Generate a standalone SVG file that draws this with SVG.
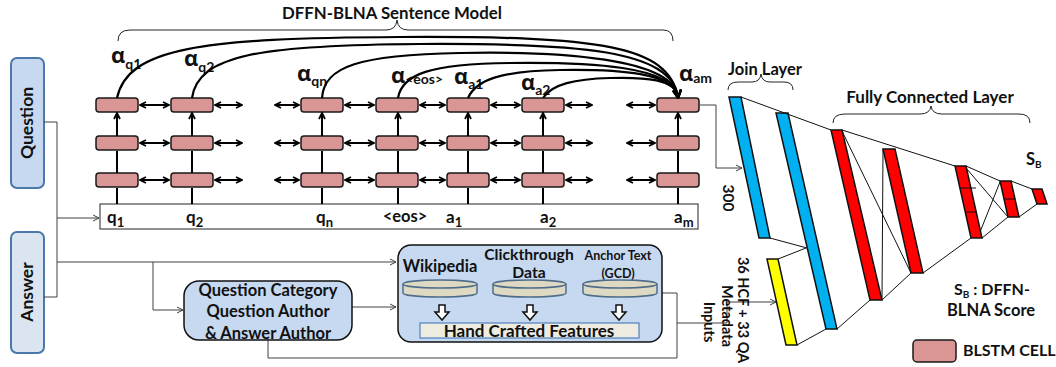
<svg xmlns="http://www.w3.org/2000/svg" width="1056" height="367" viewBox="0 0 1056 367">
<defs>
<marker id="ah" viewBox="0 0 8 8" refX="7" refY="4" markerWidth="8" markerHeight="8" markerUnits="userSpaceOnUse" orient="auto-start-reverse">
<path d="M1,1 L7,4 L1,7" fill="none" stroke="#000" stroke-width="1.8"/>
</marker>
<marker id="thin" viewBox="0 0 8 8" refX="7" refY="4" markerWidth="8" markerHeight="8" markerUnits="userSpaceOnUse" orient="auto">
<path d="M1,1 L7,4 L1,7" fill="none" stroke="#404040" stroke-width="1"/>
</marker>
<marker id="att" viewBox="0 0 10 10" refX="8" refY="5" markerWidth="10" markerHeight="10" markerUnits="userSpaceOnUse" orient="auto">
<path d="M1,1 L9,5 L1,9" fill="none" stroke="#000" stroke-width="2"/>
</marker>
</defs>
<style>
text{font-family:Lato,"Open Sans","Liberation Sans",sans-serif;font-weight:700;fill:#111}
.cell{fill:#d99694;stroke:#1a1a1a;stroke-width:1.5}
.ar{stroke:#000;stroke-width:2;fill:none;marker-end:url(#ah)}
.dar{stroke:#000;stroke-width:2;fill:none;marker-end:url(#ah);marker-start:url(#ah)}
.att{stroke:#000;stroke-width:2.2;fill:none;marker-end:url(#att)}
.wire{stroke:#404040;stroke-width:1;fill:none}
.warr{stroke:#404040;stroke-width:1;fill:none;marker-end:url(#thin)}
.brace{stroke:#222;stroke-width:1;fill:none}
.nn{stroke:#111;stroke-width:1;fill:none}
.blue{fill:#00b0f0;stroke:#111;stroke-width:1.5}
.red{fill:#ff0000;stroke:#111;stroke-width:1.5}
.yel{fill:#ffff00;stroke:#111;stroke-width:1.5}
.alpha{font-family:"Open Sans","DejaVu Sans",sans-serif;font-size:22px}
.asub{font-family:Lato,"Open Sans",sans-serif;font-size:14px}
.sub{font-size:13px}
.disk{fill:#ddd9c3;stroke:#4f6d8a;stroke-width:1.5}
</style>

<!-- Input nodes -->
<g id="question">
<rect x="11" y="58" width="33" height="130" rx="6" fill="#c6d9f1" stroke="#4a78aa" stroke-width="2"/>
<text transform="translate(27,123) rotate(-90)" text-anchor="middle" y="6" font-size="17.5">Question</text>
</g>
<g id="answer">
<rect x="11" y="232" width="33" height="121" rx="6" fill="#dbe5f1" stroke="#4a78aa" stroke-width="2"/>
<text transform="translate(27,292) rotate(-90)" text-anchor="middle" y="6" font-size="17.5">Answer</text>
</g>

<!-- Sentence model title and brace -->
<g id="sentence-model-title">
<text x="392" y="19" text-anchor="middle" font-size="16.8">DFFN-BLNA Sentence Model</text>
<path class="brace" d="M118,41 Q118,30 130,30 L386,30 Q396,30 397,20 Q398,30 408,30 L663,30 Q673,30 673,41"/>
</g>

<!-- Input sequence box -->
<g id="input-sequence">
<rect x="100" y="204" width="598" height="25" fill="#fff" stroke="#222" stroke-width="1"/>
<text x="107" y="223" font-size="17">q<tspan class="sub" dy="4">1</tspan></text>
<text x="186" y="223" font-size="17">q<tspan class="sub" dy="4">2</tspan></text>
<text x="316" y="223" font-size="17">q<tspan class="sub" dy="4">n</tspan></text>
<text x="405" y="222" text-anchor="middle" font-size="16.5">&lt;eos&gt;</text>
<text x="446" y="223" font-size="17">a<tspan class="sub" dy="4">1</tspan></text>
<text x="540" y="223" font-size="17">a<tspan class="sub" dy="4">2</tspan></text>
<text x="674" y="223" font-size="17">a<tspan class="sub" dy="4">m</tspan></text>
</g>

<!-- BLSTM cells -->
<g id="cells-q1"><rect class="cell" x="96" y="98" width="42" height="14" rx="3"/><rect class="cell" x="96" y="136" width="42" height="14" rx="3"/><rect class="cell" x="96" y="173" width="42" height="14" rx="3"/></g>
<g id="cells-q2"><rect class="cell" x="171" y="98" width="42" height="14" rx="3"/><rect class="cell" x="171" y="136" width="42" height="14" rx="3"/><rect class="cell" x="171" y="173" width="42" height="14" rx="3"/></g>
<g id="cells-qn"><rect class="cell" x="301" y="98" width="42" height="14" rx="3"/><rect class="cell" x="301" y="136" width="42" height="14" rx="3"/><rect class="cell" x="301" y="173" width="42" height="14" rx="3"/></g>
<g id="cells-eos"><rect class="cell" x="376" y="98" width="42" height="14" rx="3"/><rect class="cell" x="376" y="136" width="42" height="14" rx="3"/><rect class="cell" x="376" y="173" width="42" height="14" rx="3"/></g>
<g id="cells-a1"><rect class="cell" x="447" y="98" width="42" height="14" rx="3"/><rect class="cell" x="447" y="136" width="42" height="14" rx="3"/><rect class="cell" x="447" y="173" width="42" height="14" rx="3"/></g>
<g id="cells-a2"><rect class="cell" x="522" y="98" width="42" height="14" rx="3"/><rect class="cell" x="522" y="136" width="42" height="14" rx="3"/><rect class="cell" x="522" y="173" width="42" height="14" rx="3"/></g>
<g id="cells-am"><rect class="cell" x="657" y="98" width="42" height="14" rx="3"/><rect class="cell" x="657" y="136" width="42" height="14" rx="3"/><rect class="cell" x="657" y="173" width="42" height="14" rx="3"/></g>

<!-- Attention labels -->
<g id="alpha-labels">
<text class="alpha" x="111" y="63">α<tspan class="asub" dy="6">q1</tspan></text>
<text class="alpha" x="184" y="66">α<tspan class="asub" dy="6">q2</tspan></text>
<text class="alpha" x="297" y="81">α<tspan class="asub" dy="5">qn</tspan></text>
<text class="alpha" x="391" y="83">α<tspan class="asub" font-size="11.5" dy="1">&lt;eos&gt;</tspan></text>
<text class="alpha" x="454" y="84">α<tspan class="asub" dy="5">a1</tspan></text>
<text class="alpha" x="521" y="90">α<tspan class="asub" dy="5">a2</tspan></text>
<text class="alpha" x="679" y="81">α<tspan class="asub" dy="2">am</tspan></text>
</g>

<!-- Connectors -->
<g id="connectors">
<line class="dar" x1="140" y1="105" x2="169" y2="105"/><line class="dar" x1="140" y1="143" x2="169" y2="143"/><line class="dar" x1="140" y1="180" x2="169" y2="180"/>
<line class="dar" x1="215" y1="105" x2="242" y2="105"/><line class="dar" x1="215" y1="143" x2="242" y2="143"/><line class="dar" x1="215" y1="180" x2="242" y2="180"/>
<line class="dar" x1="275" y1="105" x2="299" y2="105"/><line class="dar" x1="275" y1="143" x2="299" y2="143"/><line class="dar" x1="275" y1="180" x2="299" y2="180"/>
<line class="dar" x1="345" y1="105" x2="374" y2="105"/><line class="dar" x1="345" y1="143" x2="374" y2="143"/><line class="dar" x1="345" y1="180" x2="374" y2="180"/>
<line class="dar" x1="420" y1="105" x2="445" y2="105"/><line class="dar" x1="420" y1="143" x2="445" y2="143"/><line class="dar" x1="420" y1="180" x2="445" y2="180"/>
<line class="dar" x1="491" y1="105" x2="520" y2="105"/><line class="dar" x1="491" y1="143" x2="520" y2="143"/><line class="dar" x1="491" y1="180" x2="520" y2="180"/>
<line class="dar" x1="566" y1="105" x2="592" y2="105"/><line class="dar" x1="566" y1="143" x2="592" y2="143"/><line class="dar" x1="566" y1="180" x2="592" y2="180"/>
<line class="dar" x1="627" y1="105" x2="655" y2="105"/><line class="dar" x1="627" y1="143" x2="655" y2="143"/><line class="dar" x1="627" y1="180" x2="655" y2="180"/>
<path class="ar" d="M117,204 V188 M117,173 V151 M117,136 V113"/>
<path class="ar" d="M192,204 V188 M192,173 V151 M192,136 V113"/>
<path class="ar" d="M322,204 V188 M322,173 V151 M322,136 V113"/>
<path class="ar" d="M398,204 V188 M398,173 V151 M398,136 V113"/>
<path class="ar" d="M468,204 V188 M468,173 V151 M468,136 V113"/>
<path class="ar" d="M543,204 V188 M543,173 V151 M543,136 V113"/>
<path class="ar" d="M678,204 V188 M678,173 V151 M678,136 V113"/>
<path class="att" d="M117,98 C128,48 200,38 400,37 S668,45 678,97"/>
<path class="att" d="M192,98 C198,55 260,45 420,44 S671,50 678,97"/>
<path class="att" d="M322,98 C324,66 360,55 460,53 S673,58 678,97"/>
<path class="att" d="M398,98 C402,74 430,64 510,63 S674,66 678,97"/>
<path class="att" d="M468,98 C476,80 500,71 560,70 S675,73 678,97"/>
<path class="att" d="M543,98 C552,84 575,79 610,78 S676,79 678,97"/>
<path class="wire" d="M44,122 H57 V297 H44"/>
<path class="warr" d="M57,218 H99"/>
<path class="warr" d="M57,262 H396"/>
<path class="warr" d="M153,262 V310 H183"/>
<path class="warr" d="M352,307 H396"/>
<path class="wire" d="M268,340 V358 H677 V293 H662"/>
<path class="wire" d="M677,323 H727 V302"/>
<path class="warr" d="M727,302 H776"/>
<path class="warr" d="M700,105 H716 V168 H742"/>
</g>

<!-- Question category node -->
<g id="question-category">
<rect x="184" y="281" width="168" height="59" rx="15" fill="#c6d9f1" stroke="#111" stroke-width="1.5"/>
<text x="268" y="296" text-anchor="middle" font-size="16.5">Question Category</text>
<text x="268" y="317" text-anchor="middle" font-size="16.5">Question Author</text>
<text x="268" y="339" text-anchor="middle" font-size="16.5">&amp; Answer Author</text>
</g>

<!-- Knowledge sources node -->
<g id="feature-sources">
<rect x="398" y="245" width="264" height="97" rx="13" fill="#c6d9f1" stroke="#111" stroke-width="1.5"/>
<text x="440" y="272" text-anchor="middle" font-size="16.5">Wikipedia</text>
<text x="529" y="260" text-anchor="middle" font-size="15.7">Clickthrough</text>
<text x="529" y="278" text-anchor="middle" font-size="15.7">Data</text>
<text x="618" y="260" text-anchor="middle" font-size="12.5">Anchor Text</text>
<text x="618" y="278" text-anchor="middle" font-size="12.5">(GCD)</text>
<g>
<path class="disk" d="M403,284 V293 A37,4 0 0 0 477,293 V284"/><ellipse class="disk" cx="440" cy="284" rx="37" ry="4"/>
<path class="disk" d="M493,284 V293 A36.5,4 0 0 0 566,293 V284"/><ellipse class="disk" cx="529.5" cy="284" rx="36.5" ry="4"/>
<path class="disk" d="M583,284 V293 A37,4 0 0 0 657,293 V284"/><ellipse class="disk" cx="620" cy="284" rx="37" ry="4"/>
</g>
<path d="M439,305 H445 V312 H449 L442,320 L435,312 H439 Z" fill="#fff" stroke="#111" stroke-width="1.5"/>
<path d="M527,305 H533 V312 H537 L530,320 L523,312 H527 Z" fill="#fff" stroke="#111" stroke-width="1.5"/>
<path d="M616,305 H622 V312 H626 L619,320 L612,312 H616 Z" fill="#fff" stroke="#111" stroke-width="1.5"/>
<rect x="420" y="323" width="219" height="15" fill="#eeece1" stroke="#4f81bd" stroke-width="1.2"/>
<text x="529" y="337" text-anchor="middle" font-size="17">Hand Crafted Features</text>
</g>

<!-- Join layer -->
<g id="join-layer">
<text x="765" y="75" text-anchor="middle" font-size="16.5">Join Layer</text>
<path class="brace" d="M728,90 Q728,82 738,82 L752,82 Q760,82 761,74 Q762,82 770,82 L784,82 Q793,82 793,90"/>
<polygon class="blue" points="729,97 741,97 770,238 759,238"/>
<polygon class="blue" points="776,113 788,113 837,329 826,329"/>
<polygon class="yel" points="767,259 778,259 797,345 786,345"/>
<text transform="translate(728,198) rotate(90)" text-anchor="middle" y="5" font-size="15.5">300</text>
<g transform="translate(730,310) rotate(90)" font-size="14.5">
<text x="0" y="-8" text-anchor="middle" font-size="14.5">36 HCF + 33  QA</text>
<text x="6" y="8" text-anchor="middle" font-size="14.5">Metadata</text>
<text x="12" y="26" text-anchor="middle" font-size="14.5">Inputs</text>
</g>
</g>

<!-- Fully connected layer -->
<g id="fully-connected-layer">
<text x="930" y="103" text-anchor="middle" font-size="17">Fully Connected Layer</text>
<path class="brace" d="M833,123 Q833,114 845,114 L920,114 Q930,114 931,106 Q932,114 942,114 L1019,114 Q1030,114 1030,123"/>
<polygon class="red" points="831,130 842,130 882,300 870,300"/>
<polygon class="red" points="883,149 895,149 923,273 911,273"/>
<polygon class="red" points="955,166 966,166 982,238 971,238"/>
<line class="nn" x1="960" y1="188" x2="976" y2="188"/><line class="nn" x1="966" y1="212" x2="977" y2="212"/>
<polygon class="red" points="1000,181 1011,181 1019,217 1008,217"/>
<line class="nn" x1="1004" y1="199" x2="1015" y2="199"/>
<polygon class="red" points="1032,189 1042,189 1047,204 1037,204"/>
</g>

<g id="network-links">
<path class="nn" d="M741,97 L831,130 M842,130 L955,166 M966,166 L1000,181 M1011,181 L1032,189"/>
<path class="nn" d="M770,238 L807,248 M778,259 L806,248"/>
<path class="nn" d="M797,345 L826,329 M837,329 L870,300 M882,300 L911,273 M923,273 L971,238 M982,238 L1008,217 M1019,217 L1037,204"/>
<path class="nn" d="M842,131 L911,273 M883,149 L882,300"/>
<path class="nn" d="M966,168 L1008,217 M980,232 L1000,182"/>
</g>

<!-- Score labels -->
<g id="score-label">
<text x="1026" y="165" font-size="16.5">S<tspan font-size="10" dy="3">B</tspan></text>
<text x="954" y="295" font-size="16">S<tspan font-size="10" dy="3">B</tspan><tspan dy="-3"> : DFFN-</tspan></text>
<text x="947" y="316" font-size="16.5">BLNA Score</text>
</g>

<g id="legend">
<rect class="cell" x="913" y="340" width="43" height="22" rx="4"/>
<text x="963" y="356" font-size="16">BLSTM CELL</text>
</g>
</svg>
